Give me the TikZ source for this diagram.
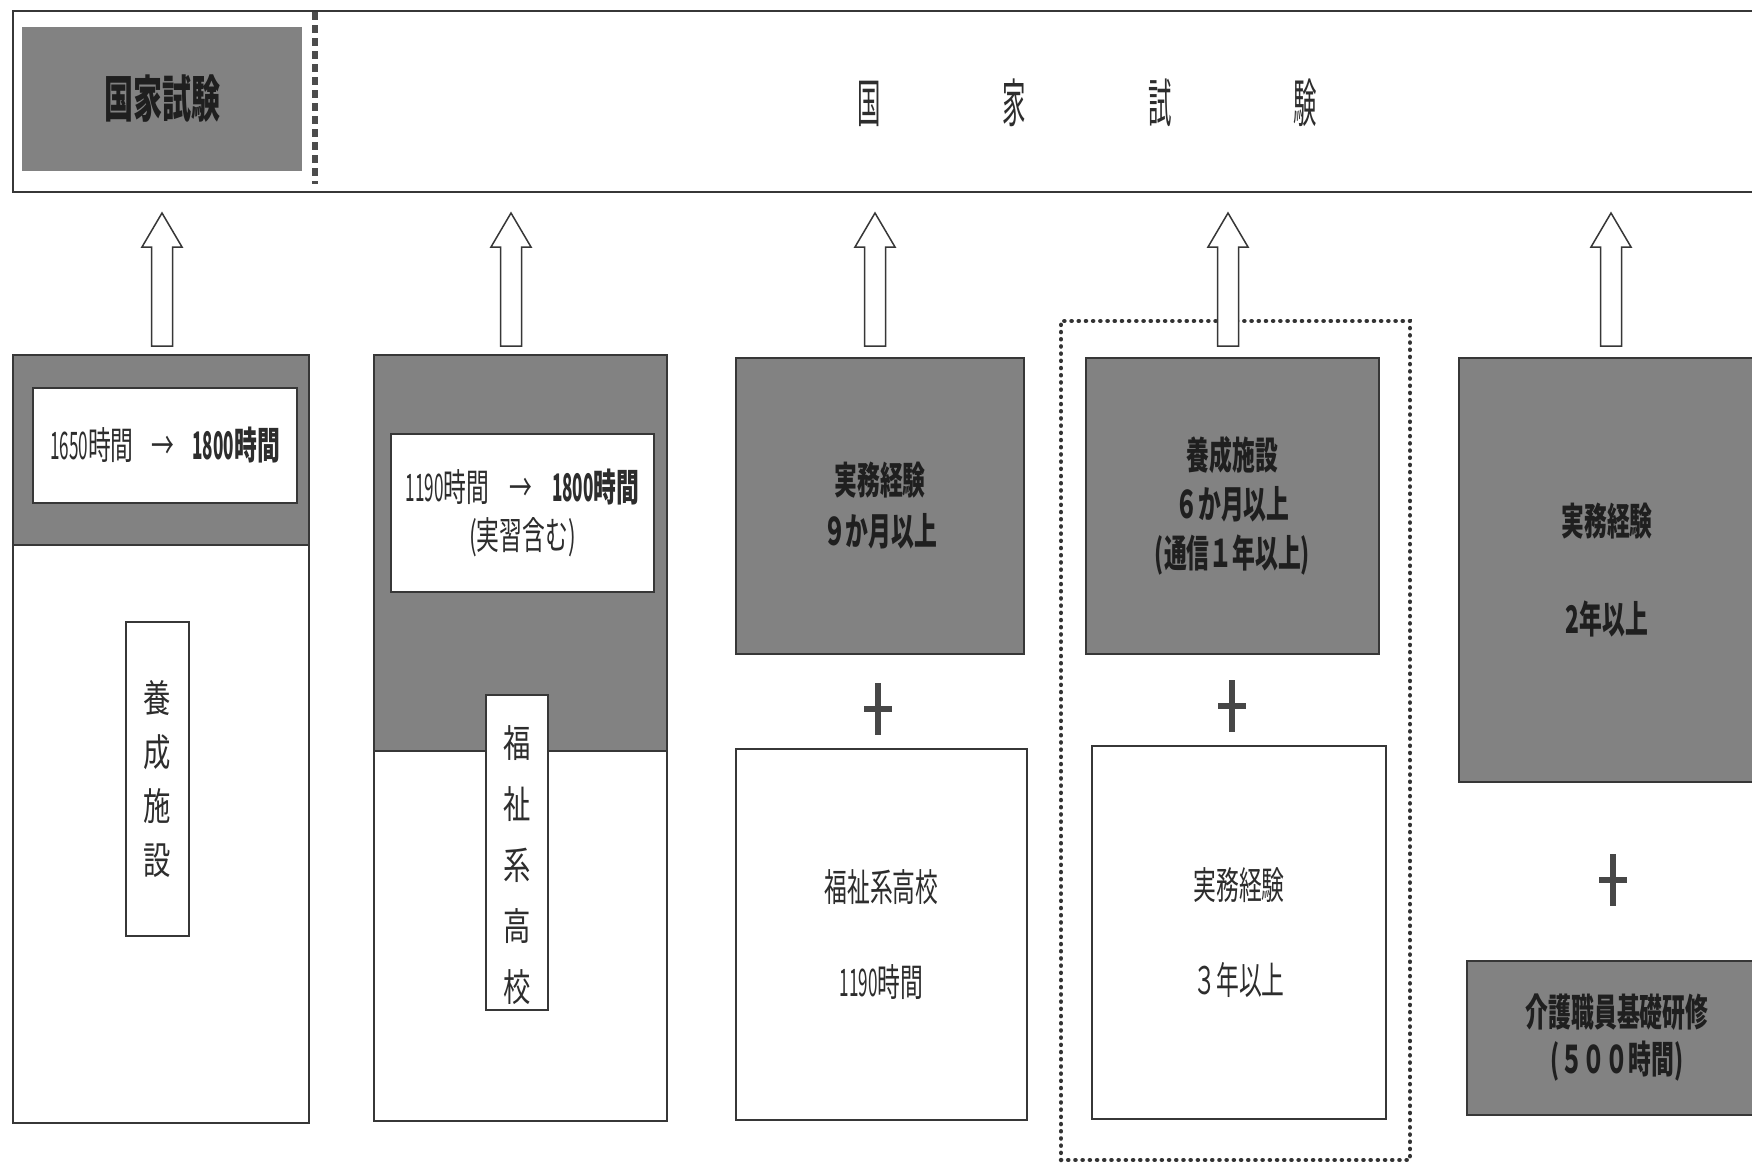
\documentclass[tikz,border=0pt]{standalone}
\usepackage{fontspec}
\usetikzlibrary{calc}
\newfontfamily\jpc[FakeStretch=0.6]{Noto Sans CJK JP}
\newfontfamily\jpt[FakeStretch=0.45]{Noto Sans CJK JP}
\newfontfamily\jpv[FakeStretch=0.72]{Noto Sans CJK JP}
\newfontfamily\jpd[FakeStretch=0.45]{Noto Sans CJK JP}
\newfontfamily\jph[FakeStretch=0.58]{Noto Sans CJK JP}
\definecolor{boxgray}{RGB}{130,130,130}
\definecolor{ink}{RGB}{55,55,55}
\definecolor{txt}{RGB}{45,45,45}
\newcommand\mkbox[6][]{\node[#1, minimum width={#5-#3}, minimum height={#6-#4}] (#2) at ({(#3+#5)/2},{(#4+#6)/2})}
\tikzset{
  frame/.style={draw=ink, line width=1.6pt, inner sep=0pt, fill=white, text=txt},
  graybox/.style={frame, fill=boxgray, text=black!88},
  lbl/.style={align=center, font=\jpc\fontsize{38}{49}\selectfont},
  blbl/.style={align=center, font=\jpc\bfseries\fontsize{38}{49}\selectfont},
  vtext/.style={align=center, text=txt, inner sep=0pt, font=\jpv\fontsize{38}{54}\selectfont},
  harrow/.style={draw=ink, line width=1.5pt, fill=white, line join=miter},
  plussign/.style={minimum width=28pt, minimum height=52pt, inner sep=0pt,
    path picture={\draw[line width=5.5pt, black!72]
      (path picture bounding box.north) -- (path picture bounding box.south)
      (path picture bounding box.west) -- (path picture bounding box.east);}},
  sepline/.style={draw=black!70, line width=6pt, dash pattern=on 8pt off 5pt},
  dotbox/.style={draw=black!80, line width=4.5pt, line cap=round, dash pattern=on 0.1pt off 7.1pt, inner sep=0pt}
}
\begin{document}
\begin{tikzpicture}[x=1pt, y=-1pt]
\clip (0,0) rectangle (1752,1162);
\fill[white] (0,0) rectangle (1752,1162);

% top exam band
\mkbox[frame]{exam}{13}{11}{1790}{192} {};
\mkbox[frame, fill=boxgray, draw=none, text=black!88, font=\jph\bfseries\fontsize{50}{56}\selectfont]{examgray}{22}{27}{302}{171} {国家試験};
\coordinate (sepTop) at (315,12);
\coordinate (sepBot) at (315,184);
\draw[sepline] (sepTop) -- (sepBot);
\node[text=txt, font=\jpt\fontsize{52}{56}\selectfont, inner sep=0pt] (title) at (1087,103)
  {国\hspace{122pt}家\hspace{122pt}試\hspace{122pt}験};

% column 1
\mkbox[frame]{c1}{13}{355}{309}{1123} {};
\mkbox[graybox]{c1band}{13}{355}{309}{545} {};
\mkbox[frame, lbl]{c1in}{33}{388}{297}{503}
  {{\jpd 1650}時間\hspace{18pt}→\hspace{18pt}{\bfseries{\jpd 1800}時間}};
\mkbox[frame]{c1v}{126}{622}{189}{936} {};
\node[vtext] (c1vt) at (157,779) {養\\成\\施\\設};

% column 2
\mkbox[frame]{c2}{374}{355}{667}{1121} {};
\mkbox[graybox]{c2band}{374}{355}{667}{751} {};
\mkbox[frame, lbl, font=\jpc\fontsize{38}{48}\selectfont]{c2in}{391}{434}{654}{592}
  {{\jpd 1190}時間\hspace{20pt}→\hspace{20pt}{\bfseries{\jpd 1800}時間}\\(実習含む)};
\mkbox[frame]{c2v}{486}{695}{548}{1010} {};
\node[vtext, font=\jpv\fontsize{38}{61}\selectfont] (c2vt) at (517,865) {福\\祉\\系\\高\\校};

% column 3
\mkbox[graybox, blbl, font=\jpc\bfseries\fontsize{38}{51}\selectfont]{c3top}{736}{358}{1024}{654} {実務経験\\９か月以上};
\node[plussign] (p3) at (878,709) {};
\mkbox[frame, lbl]{c3bot}{736}{749}{1027}{1120} {福祉系高校\\[46pt]{\jpd 1190}時間};

% column 4
\mkbox[dotbox]{c4grp}{1061}{321}{1410}{1160} {};
\mkbox[graybox, blbl]{c4top}{1086}{358}{1379}{654} {養成施設\\６か月以上\\(通信１年以上)};
\node[plussign] (p4) at (1232,706) {};
\mkbox[frame, lbl]{c4bot}{1092}{746}{1386}{1119} {実務経験\\[46pt]３年以上};

% column 5
\mkbox[graybox, blbl]{c5top}{1459}{358}{1755}{782} {実務経験\\[49pt]2年以上};
\node[plussign] (p5) at (1613,880) {};
\mkbox[graybox, blbl, font=\jpc\bfseries\fontsize{38}{47}\selectfont]{c5bot}{1467}{961}{1767}{1115} {介護職員基礎研修\\(５００時間)};

% hollow block arrows up to the exam band
\foreach \n/\ax in {1/162, 2/511, 3/875, 4/1228, 5/1611} {
  \coordinate (arr\n) at (\ax,346);
  \draw[harrow] (arr\n) ++(-10.5,0) -- ++(0,-99) -- ++(-9.5,0) -- ++(20,-34)
     -- ++(20,34) -- ++(-9.5,0) -- ++(0,99) -- cycle;
}
\end{tikzpicture}
\end{document}
